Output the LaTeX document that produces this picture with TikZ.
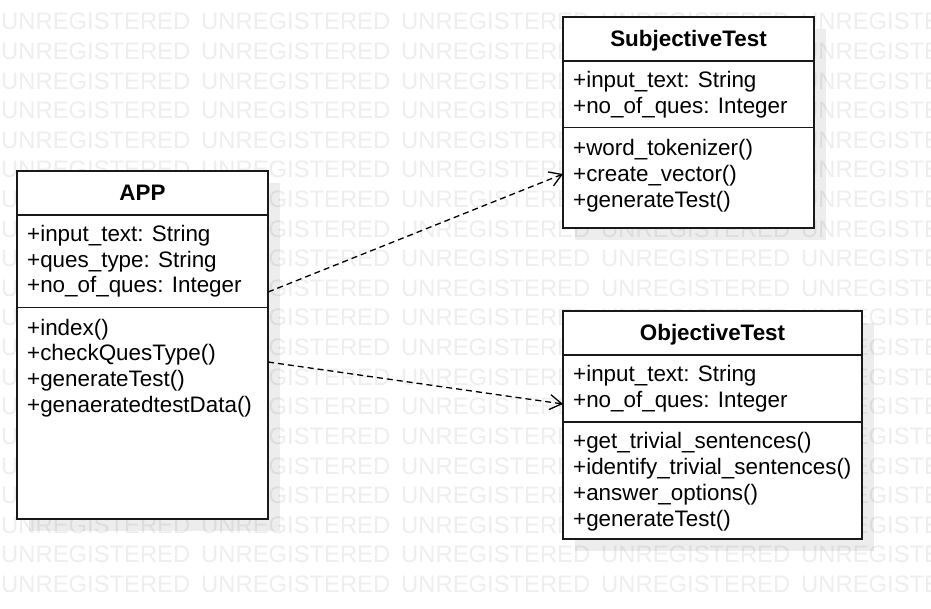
\documentclass[tikz,border=0pt]{standalone}
\usepackage{fontspec}
\setmainfont{Liberation Sans}
\usetikzlibrary{arrows.meta}
\definecolor{wm}{RGB}{238,238,238}
\begin{document}
\begin{tikzpicture}[x=1pt,y=-1pt,
  classbox/.style={draw=black!90, line width=1.5pt, fill=white, inner sep=0pt, outer sep=0pt, anchor=north west},
  shadowbox/.style={fill=black, opacity=0.07, draw=none},
  member/.style={anchor=base west, inner sep=0pt, font=\fontsize{22.4}{26}\selectfont},
  ctitle/.style={anchor=base, inner sep=0pt, font=\fontsize{22.4}{26}\selectfont\bfseries},
  wmark/.style={anchor=base west, inner sep=0pt, text=wm, font=\fontsize{23.8}{28}\selectfont},
  divider/.style={line width=1.5pt, draw=black!90},
  dep/.style={line width=1.3pt, dash pattern=on 6pt off 4pt, -{Straight Barb[length=12pt,width=15pt]}}
]
\clip (0,0) rectangle (931,609);
\fill[white] (0,0) rectangle (931,609);
% watermark
\foreach \r in {0,...,19}{
  \foreach \c in {0,...,4}{
    \node[wmark] (wm-\r-\c) at ({1+200*\c},{30+29.6*\r}) {UNREGISTERED};
  }
}
% shadows
\fill[shadowbox] (29,183) rectangle (280,531);
\fill[shadowbox] (575,29) rectangle (826,240);
\fill[shadowbox] (575,323) rectangle (874,551);
% boxes
\node[classbox, minimum width=251pt, minimum height=348pt] (app) at (17,171) {};
\node[classbox, minimum width=251pt, minimum height=211pt] (sub) at (563,17) {};
\node[classbox, minimum width=299pt, minimum height=228pt] (obj) at (563,311) {};
% dividers
\draw[divider] ([yshift=-44pt]app.north west) -- ([yshift=-44pt]app.north east);
\draw[divider] ([yshift=-136.3pt]app.north west) -- ([yshift=-136.3pt]app.north east);
\draw[divider] ([yshift=-44pt]sub.north west) -- ([yshift=-44pt]sub.north east);
\draw[divider] ([yshift=-110.3pt]sub.north west) -- ([yshift=-110.3pt]sub.north east);
\draw[divider] ([yshift=-44pt]obj.north west) -- ([yshift=-44pt]obj.north east);
\draw[divider] ([yshift=-111pt]obj.north west) -- ([yshift=-111pt]obj.north east);
% APP
\node[ctitle] (app-t) at (142.5,200.5) {APP};
\node[member] (app-a1) at (27,242) {+input\_text: String};
\node[member] (app-a2) at (27,267.5) {+ques\_type: String};
\node[member] (app-a3) at (27,293) {+no\_of\_ques: Integer};
\node[member] (app-m1) at (27,335) {+index()};
\node[member] (app-m2) at (27,360.8) {+checkQuesType()};
\node[member] (app-m3) at (27,386.6) {+generateTest()};
\node[member] (app-m4) at (27,412.4) {+genaeratedtestData()};
% SubjectiveTest
\node[ctitle] (sub-t) at (688.5,46.5) {SubjectiveTest};
\node[member] (sub-a1) at (573,87.5) {+input\_text: String};
\node[member] (sub-a2) at (573,113.3) {+no\_of\_ques: Integer};
\node[member] (sub-m1) at (573,155.5) {+word\_tokenizer()};
\node[member] (sub-m2) at (573,181.3) {+create\_vector()};
\node[member] (sub-m3) at (573,207.1) {+generateTest()};
% ObjectiveTest
\node[ctitle] (obj-t) at (712.5,340.5) {ObjectiveTest};
\node[member] (obj-a1) at (573,381.5) {+input\_text: String};
\node[member] (obj-a2) at (573,407.3) {+no\_of\_ques: Integer};
\node[member] (obj-m1) at (573,448) {+get\_trivial\_sentences()};
\node[member] (obj-m2) at (573,474) {+identify\_trivial\_sentences()};
\node[member] (obj-m3) at (573,500) {+answer\_options()};
\node[member] (obj-m4) at (573,526) {+generateTest()};
% dependencies
\draw[dep] ([yshift=-121pt]app.north east) -- ([yshift=-157pt]sub.north west);
\draw[dep] ([yshift=-191pt]app.north east) -- ([yshift=-93pt]obj.north west);
\end{tikzpicture}
\end{document}
